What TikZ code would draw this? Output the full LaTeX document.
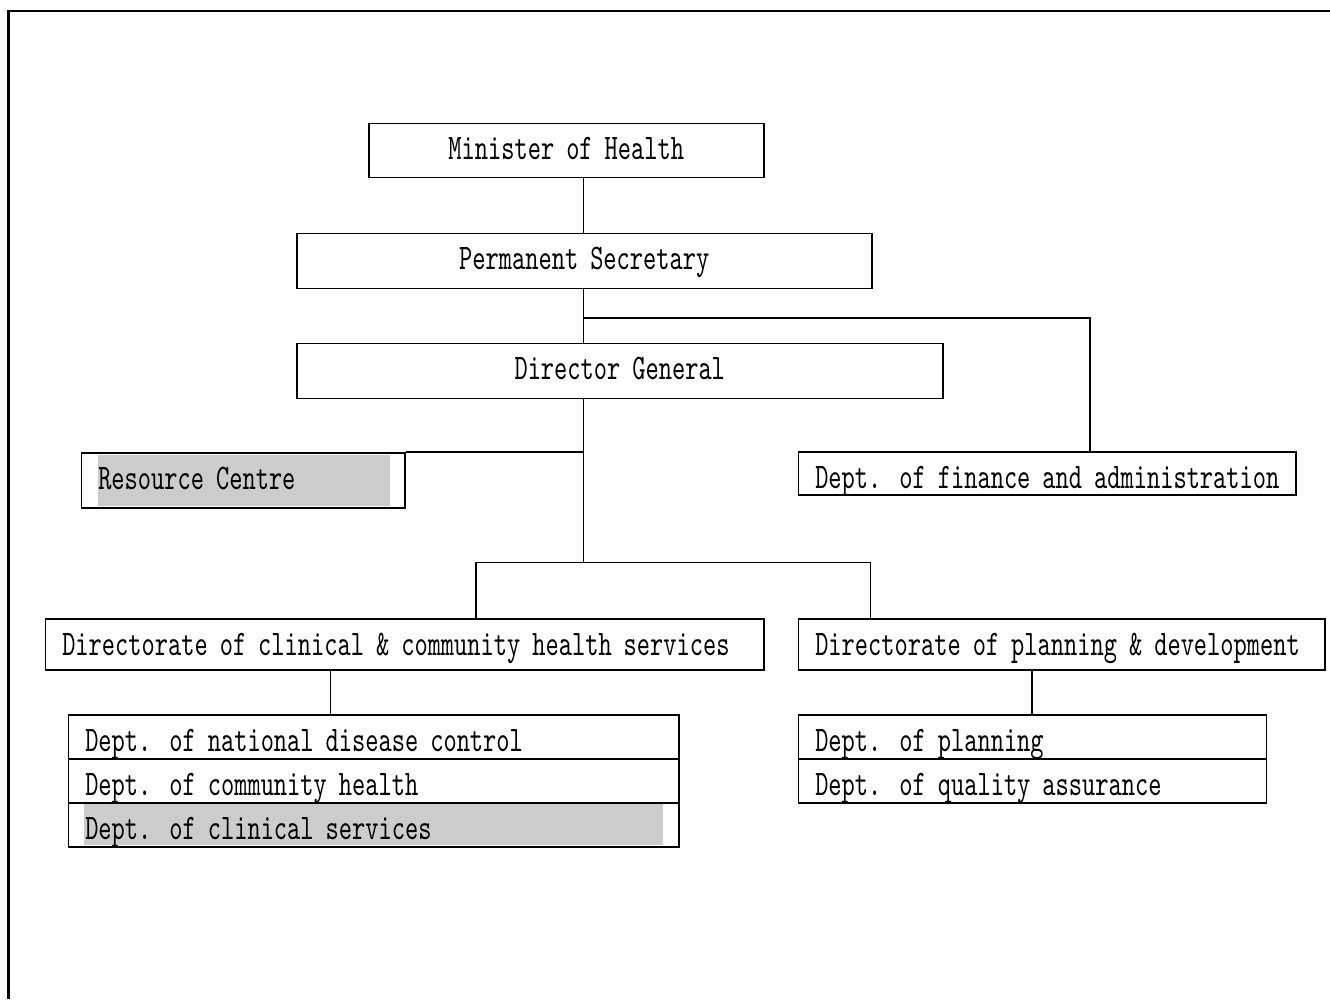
\documentclass[tikz,border=0pt]{standalone}
\usepackage{fontspec}
\usetikzlibrary{calc,backgrounds}
\newfontfamily\chartfont{lmmono10-regular.otf}[FakeStretch=0.70]
\definecolor{greyfill}{RGB}{204,204,204}

\tikzset{
  x=1pt, y=-1pt,
  every node/.style={font=\chartfont\fontsize{36}{40}\selectfont},
  orgbox/.style={draw, line width=1.5pt, rectangle, anchor=north west,
    inner xsep=0pt, inner ysep=0pt, text height=36.5pt},
  centrebox/.style={orgbox, align=center},
  leftbox/.style={orgbox, align=left, inner xsep=17pt},
  wire/.style={line width=1.5pt},
  frameline/.style={line width=2.5pt}
}

\begin{document}
\begin{tikzpicture}
\useasboundingbox (0,0) rectangle (1330,999);

% page frame, open at the right and at the bottom
\draw[frameline] (8.25,999) -- (8.25,11) -- (1330,11);

% top of the hierarchy
\node[centrebox, minimum width=395pt, minimum height=54pt, text width=395pt, text depth=17.5pt]
  (minister) at (368,122.5) {Minister of Health};
\node[centrebox, minimum width=575pt, minimum height=55pt, text width=575pt, text depth=18.5pt]
  (perm) at (296,232.5) {Permanent Secretary};
\node[centrebox, minimum width=646pt, minimum height=55pt, text width=646pt, text depth=18.5pt]
  (dg) at (296,342.5) {Director General};

% units beside the main line
\node[leftbox, minimum width=323.5pt, minimum height=55pt, text width=289.5pt, text depth=18.5pt]
  (rc) at (80.5,452) {\mbox{Resource Centre}};
\node[leftbox, minimum width=497.5pt, minimum height=43pt, text width=463.5pt, text depth=6.5pt]
  (fin) at (797.5,451) {\mbox{Dept. of finance and administration}};

% directorates
\node[leftbox, minimum width=718.5pt, minimum height=51pt, text width=684.5pt, text depth=14.5pt]
  (clin) at (44.5,618) {\mbox{Directorate of clinical \& community health services}};
\node[leftbox, minimum width=526.5pt, minimum height=51pt, text width=492.5pt, text depth=14.5pt]
  (plan) at (797.5,618) {\mbox{Directorate of planning \& development}};

% departments under the clinical directorate
\node[leftbox, minimum width=610.5pt, minimum height=44pt, text width=576.5pt, text depth=7.5pt]
  (ndc) at (67.5,714) {\mbox{Dept. of national disease control}};
\node[leftbox, minimum width=610.5pt, minimum height=44pt, text width=576.5pt, text depth=7.5pt]
  (comm) at (67.5,758) {\mbox{Dept. of community health}};
\node[leftbox, minimum width=610.5pt, minimum height=44pt, text width=576.5pt, text depth=7.5pt]
  (clinsvc) at (67.5,802) {\mbox{Dept. of clinical services}};

% departments under the planning directorate
\node[leftbox, minimum width=468pt, minimum height=44pt, text width=434pt, text depth=7.5pt]
  (pln) at (797.5,714) {\mbox{Dept. of planning}};
\node[leftbox, minimum width=468pt, minimum height=44pt, text width=434pt, text depth=7.5pt]
  (qa) at (797.5,758) {\mbox{Dept. of quality assurance}};

% grey highlights behind two labels
\begin{scope}[on background layer]
  \fill[greyfill] ($(rc.north west)+(17.5,3)$) rectangle ($(rc.south east)+(-16,-3)$);
  \fill[greyfill] ($(clinsvc.north west)+(16.5,2)$) rectangle ($(clinsvc.south east)+(-17,-3)$);
\end{scope}

% junction points of the connectors
\coordinate (j1) at (583.5,318);
\coordinate (j2) at (583.5,562.5);
\coordinate (finTap) at (1090,318);
\coordinate (dropA) at (476,562.5);
\coordinate (dropB) at (870.5,562.5);
\coordinate (stubA) at (330.5,0);
\coordinate (stubB) at (1032,0);

% connectors
\draw[wire] (minister.south -| j1) -- (perm.north -| j1);
\draw[wire] (perm.south -| j1) -- (dg.north -| j1);
\draw[wire] (j1) -- (finTap) -- (finTap |- fin.north);
\draw[wire] (dg.south -| j2) -- (j2);
\draw[wire] (rc.north east) -- (rc.north east -| j1);
\draw[wire] (dropA |- clin.north) -- (dropA) -- (dropB) -- (dropB |- plan.north);
\draw[wire] (stubA |- clin.south) -- (stubA |- ndc.north);
\draw[wire] (stubB |- plan.south) -- (stubB |- pln.north);
\end{tikzpicture}
\end{document}
